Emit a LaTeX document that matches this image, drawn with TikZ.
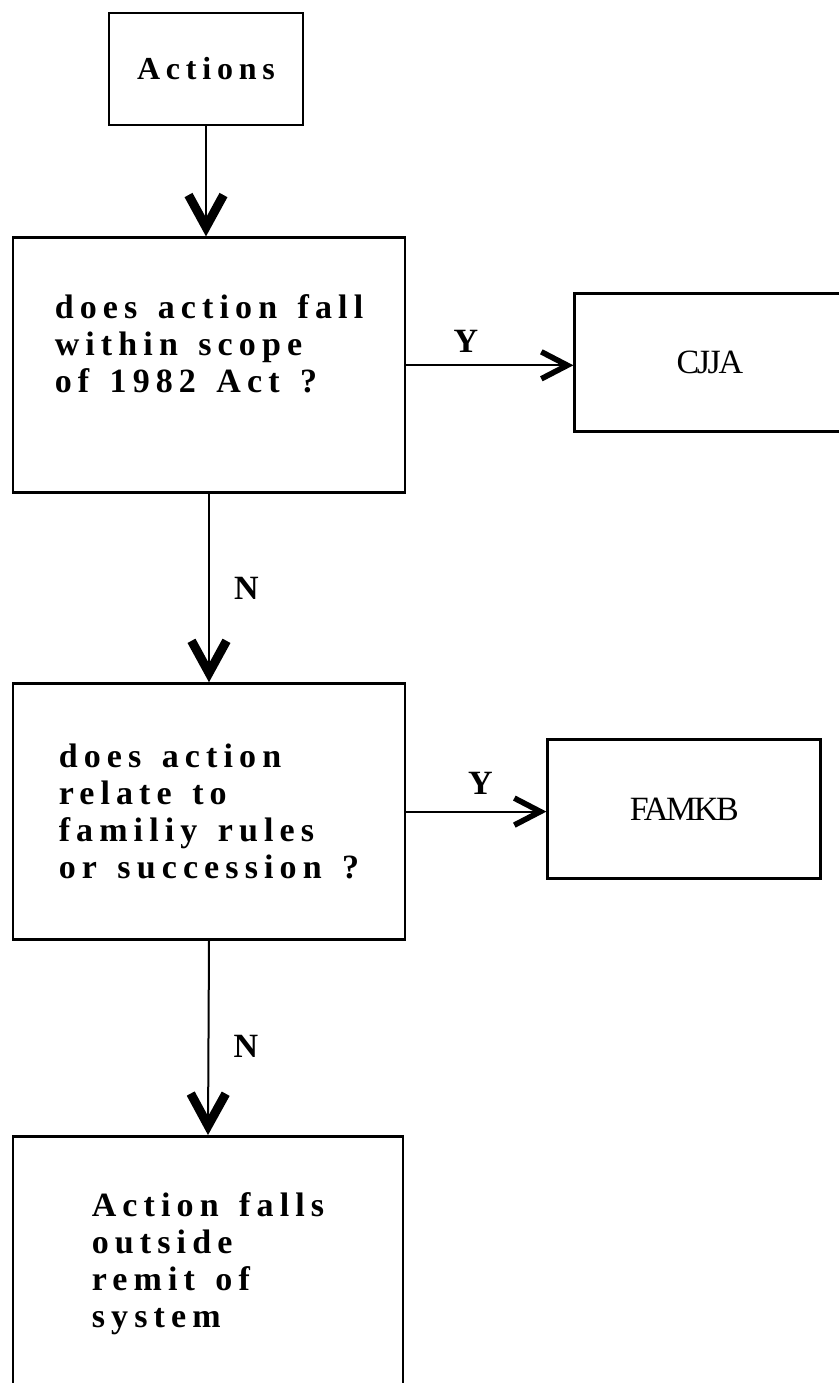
\documentclass[tikz,border=0pt]{standalone}
\usepackage{fontspec}
\setmainfont{Liberation Serif}
\newfontfamily\spacedfont[LetterSpace=18, WordSpace=1.4]{Liberation Serif}
\newfontfamily\tightfont[LetterSpace=-7]{Liberation Serif}
\usetikzlibrary{arrows.meta, positioning}

\begin{document}
\begin{tikzpicture}[
    node distance=55pt and 80pt,
    box/.style={rectangle, draw, line width=1.4pt, inner sep=0pt},
    startbox/.style={box, minimum width=97pt, minimum height=56pt,
                font=\spacedfont\bfseries\fontsize{16}{19}\selectfont},
    qbox/.style={box, minimum width=196pt, minimum height=127.5pt, align=left,
                font=\spacedfont\bfseries\fontsize{17}{18.5}\selectfont},
    kbbox/.style={box, minimum width=136pt, minimum height=69pt,
                font=\tightfont\fontsize{17}{18}\selectfont},
    yn/.style={font=\bfseries\fontsize{17}{17}\selectfont, inner sep=2pt},
    varr/.style={line width=1pt, -{Straight Barb[length=16pt, width=17.5pt, line width=4.5pt]}},
    harr/.style={line width=1pt, -{Straight Barb[length=13pt, width=13.5pt, line width=2.8pt]}}
  ]
    \useasboundingbox (0,0) rectangle (419.5pt,-691.5pt);

    \node[startbox] (act) at (103pt,-34.5pt) {Actions};
    \node[qbox, below=55pt of act, xshift=1.5pt, text depth=22pt] (scope)
      {does action fall\\within scope\\of 1982 Act ?};
    \node[kbbox, right=83.5pt of scope, yshift=1.25pt, minimum width=135pt] (cjja) {CJJA};
    \node[qbox, below=94pt of scope, minimum height=128pt] (family)
      {does action\\relate to\\familiy rules\\or succession ?};
    \node[kbbox, right=70pt of family, yshift=1.25pt, minimum width=136.5pt, minimum height=69.5pt] (famkb) {FAMKB};
    \node[qbox, below=97pt of family, xshift=-0.5pt, minimum width=195pt, minimum height=127pt] (outside)
      {Action falls\\outside\\remit of\\system};

    \draw[varr] (act.south) -- (act.south |- scope.north);
    \draw[harr] (scope.east) -- node[yn, above, xshift=-12pt, yshift=4pt]{Y} (scope.east -| cjja.west);
    \draw[varr] (scope.south) -- node[yn, right, xshift=10pt]{N} (family.north);
    \draw[harr] (family.east) -- node[yn, above, xshift=2pt, yshift=6pt]{Y} (family.east -| famkb.west);
    \draw[varr] (family.south) -- node[yn, right, xshift=10pt, yshift=-4pt]{N} (outside.north);
  \end{tikzpicture}
\end{document}
